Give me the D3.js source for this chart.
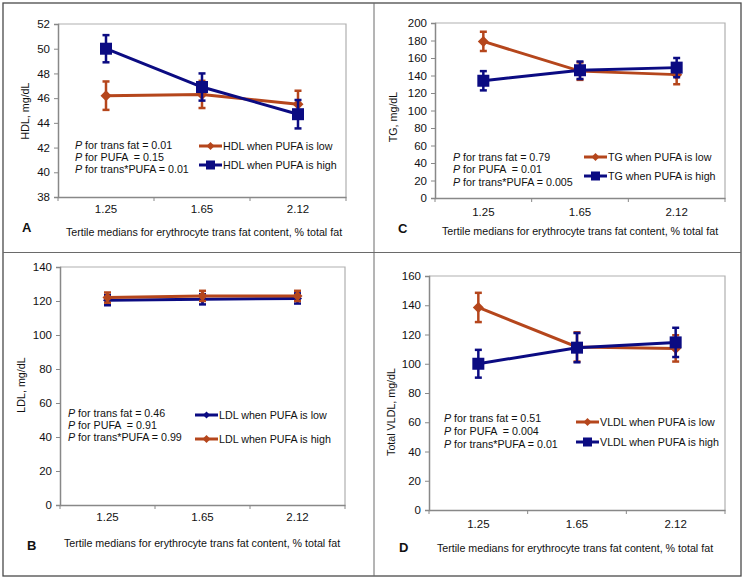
<!DOCTYPE html>
<html><head><meta charset="utf-8">
<script src="https://cdn.jsdelivr.net/npm/d3@7"></script>
<style>
body{margin:0;background:#fff;}
svg text{font-family:"Liberation Sans",Arial,sans-serif;white-space:pre;}
</style></head>
<body><svg id="c" width="744" height="580"></svg>
<script>
const categories = ["1.25", "1.65", "2.12"];
const xTitle = "Tertile medians for erythrocyte trans fat content, % total fat";

// Panel A: HDL
const hdlLow = [46.2, 46.3, 45.5];
const hdlLowErr = [1.15, 1.1, 1.1];
const hdlHigh = [50.0, 46.9, 44.7];
const hdlHighErr = [1.1, 1.1, 1.15];
// Panel B: LDL
const ldlLow = [120.5, 121, 121.5];
const ldlLowErr = [3, 3, 3];
const ldlHigh = [122, 123, 123];
const ldlHighErr = [3, 3, 3];
// Panel C: TG
const tgLow = [179, 145, 141];
const tgLowErr = [11, 10, 11];
const tgHigh = [134, 146, 149];
const tgHighErr = [11, 10, 11];
// Panel D: VLDL
const vldlLow = [138.5, 111.5, 110.5];
const vldlLowErr = [10, 10, 9];
const vldlHigh = [100, 111, 114.6];
const vldlHighErr = [9.5, 10, 10];

const ORANGE = "#B5461C", NAVY = "#0B0B82";
const FS = 10.7;

const svg = d3.select("#c");
svg.append("rect").attr("x",3).attr("y",3).attr("width",738).attr("height",573)
  .attr("fill","none").attr("stroke","#4a4a4a").attr("stroke-width",1.3);
svg.append("line").attr("x1",374).attr("x2",374).attr("y1",3).attr("y2",576).attr("stroke","#6a6a6a").attr("stroke-width",1);
svg.append("line").attr("x1",3).attr("x2",741).attr("y1",252.5).attr("y2",252.5).attr("stroke","#6a6a6a").attr("stroke-width",1);

function panel(cfg){
  const g = svg.append("g");
  const x = d3.scaleBand().domain(categories).range([cfg.left, cfg.right]);
  const y = d3.scaleLinear().domain(cfg.domain).range([cfg.bottom, cfg.top]);
  g.append("path").attr("d",`M${cfg.left},${cfg.top}H${cfg.right}V${cfg.bottom}`)
    .attr("fill","none").attr("stroke","#b0b0b0").attr("stroke-width",1.2);
  const ya = g.append("g").attr("transform",`translate(${cfg.left},0)`)
    .call(d3.axisLeft(y).tickValues(d3.range(cfg.domain[0], cfg.domain[1]+0.001, cfg.step)).tickSize(4).tickPadding(4));
  ya.select(".domain").attr("stroke","#888").attr("stroke-width",1.5);
  ya.selectAll(".tick line").attr("stroke","#888");
  ya.selectAll(".tick text").attr("font-size",11.5).attr("fill","#111").attr("font-family","Liberation Sans, Arial");
  const xa = g.append("g").attr("transform",`translate(0,${cfg.bottom})`)
    .call(d3.axisBottom(x).tickSize(0).tickPadding(cfg.xpad));
  xa.select(".domain").attr("stroke","#888").attr("stroke-width",1.5);
  xa.selectAll(".tick text").attr("font-size",11.5).attr("fill","#111").attr("font-family","Liberation Sans, Arial");
  const bounds = categories.map(c=>x(c)).concat([cfg.right]);
  g.selectAll(".bt").data(bounds).enter().append("line")
    .attr("x1",d=>d).attr("x2",d=>d).attr("y1",cfg.bottom).attr("y2",cfg.bottom+4)
    .attr("stroke","#888").attr("stroke-width",1);
  g.append("text").attr("transform",`translate(${cfg.ytx},${cfg.yty}) rotate(-90)`)
    .attr("text-anchor","middle").attr("dy","0.35em").attr("font-size",FS).attr("fill","#111").text(cfg.ytitle);
  g.append("text").attr("x",cfg.xtx).attr("y",cfg.xty).attr("text-anchor","middle").attr("dy","0.35em")
    .attr("font-size",FS).attr("fill","#111").text(xTitle);
  g.append("text").attr("x",cfg.lx).attr("y",cfg.ly).attr("dy","0.35em").attr("font-size",13)
    .attr("font-weight","bold").attr("fill","#111").text(cfg.letter);
  cfg.series.forEach(s=>{
    const cx = c=>x(c)+x.bandwidth()/2;
    const line = d3.line().x((d,i)=>cx(categories[i])).y(d=>y(d));
    g.append("path").attr("d",line(s.vals)).attr("fill","none").attr("stroke",s.color).attr("stroke-width",3);
    s.vals.forEach((v,i)=>{
      const xc = cx(categories[i]);
      const e = s.err[i];
      g.append("line").attr("x1",xc).attr("x2",xc).attr("y1",y(v-e)).attr("y2",y(v+e)).attr("stroke",s.color).attr("stroke-width",2.5);
      [v-e, v+e].forEach(t=>g.append("line").attr("x1",xc-3.5).attr("x2",xc+3.5).attr("y1",y(t)).attr("y2",y(t)).attr("stroke",s.color).attr("stroke-width",2.5));
      drawMarker(g, s.marker, xc, y(v), s.color, s.msize);
    });
  });
  cfg.ptext.forEach((t,i)=>{
    const tx = g.append("text").attr("x",cfg.px).attr("y",cfg.py[i]).attr("dy","0.35em").attr("font-size",FS).attr("fill","#111");
    tx.append("tspan").attr("font-style","italic").text("P");
    tx.append("tspan").text(" " + t);
  });
  cfg.series.forEach((s,i)=>{
    const ly = cfg.legY[i];
    g.append("line").attr("x1",cfg.legX).attr("x2",cfg.legX+23).attr("y1",ly).attr("y2",ly).attr("stroke",s.color).attr("stroke-width",3);
    drawMarker(g, s.marker, cfg.legX+11.5, ly, s.color, s.legSize);
    g.append("text").attr("x",cfg.legX+24).attr("y",ly).attr("dy","0.35em").attr("font-size",FS).attr("fill","#111").text(s.name);
  });
}
function drawMarker(g, type, cx, cy, color, size){
  if(type==="square"){
    g.append("rect").attr("x",cx-size/2).attr("y",cy-size/2).attr("width",size).attr("height",size).attr("fill",color);
  } else {
    const r = size/2;
    g.append("path").attr("d",`M${cx},${cy-r}L${cx+r},${cy}L${cx},${cy+r}L${cx-r},${cy}Z`).attr("fill",color);
  }
}

panel({left:58, right:346, top:24, bottom:197, domain:[38,52], step:2, xpad:8,
  ytitle:"HDL, mg/dL", ytx:25, yty:111, xtx:204, xty:232, letter:"A", lx:22, ly:227,
  ptext:["for trans fat = 0.01","for PUFA  = 0.15","for trans*PUFA = 0.01"], px:75, py:[145,157,169],
  legX:199, legY:[146,165],
  series:[
    {name:"HDL when PUFA is low", vals:hdlLow, err:hdlLowErr, color:ORANGE, marker:"diamond", msize:11, legSize:8},
    {name:"HDL when PUFA is high", vals:hdlHigh, err:hdlHighErr, color:NAVY, marker:"square", msize:12, legSize:9}
  ]});
panel({left:60, right:345, top:267, bottom:505, domain:[0,140], step:20, xpad:8,
  ytitle:"LDL, mg/dL", ytx:21, yty:385, xtx:202, xty:543, letter:"B", lx:27, ly:545,
  ptext:["for trans fat = 0.46","for PUFA  = 0.91","for trans*PUFA = 0.99"], px:68, py:[413,425,437],
  legX:195, legY:[415,439],
  series:[
    {name:"LDL when PUFA is low", vals:ldlLow, err:ldlLowErr, color:NAVY, marker:"diamond", msize:9, legSize:7},
    {name:"LDL when PUFA is high", vals:ldlHigh, err:ldlHighErr, color:ORANGE, marker:"diamond", msize:10, legSize:8}
  ]});
panel({left:435, right:725, top:23, bottom:198, domain:[0,200], step:20, xpad:10,
  ytitle:"TG, mg/dL", ytx:393, yty:117, xtx:580, xty:231, letter:"C", lx:398, ly:228,
  ptext:["for trans fat = 0.79","for PUFA  = 0.01","for trans*PUFA = 0.005"], px:453, py:[157,169.5,182],
  legX:584, legY:[157,176],
  series:[
    {name:"TG when PUFA is low", vals:tgLow, err:tgLowErr, color:ORANGE, marker:"diamond", msize:11, legSize:8},
    {name:"TG when PUFA is high", vals:tgHigh, err:tgHighErr, color:NAVY, marker:"square", msize:12, legSize:9}
  ]});
panel({left:429, right:725, top:276, bottom:510, domain:[0,160], step:20, xpad:10,
  ytitle:"Total VLDL, mg/dL", ytx:391, yty:412, xtx:575, xty:548, letter:"D", lx:399, ly:547,
  ptext:["for trans fat = 0.51","for PUFA  = 0.004","for trans*PUFA = 0.01"], px:444, py:[418,431,444],
  legX:576, legY:[422,442],
  series:[
    {name:"VLDL when PUFA is low", vals:vldlLow, err:vldlLowErr, color:ORANGE, marker:"diamond", msize:11, legSize:8},
    {name:"VLDL when PUFA is high", vals:vldlHigh, err:vldlHighErr, color:NAVY, marker:"square", msize:12, legSize:9}
  ]});
</script></body></html>
